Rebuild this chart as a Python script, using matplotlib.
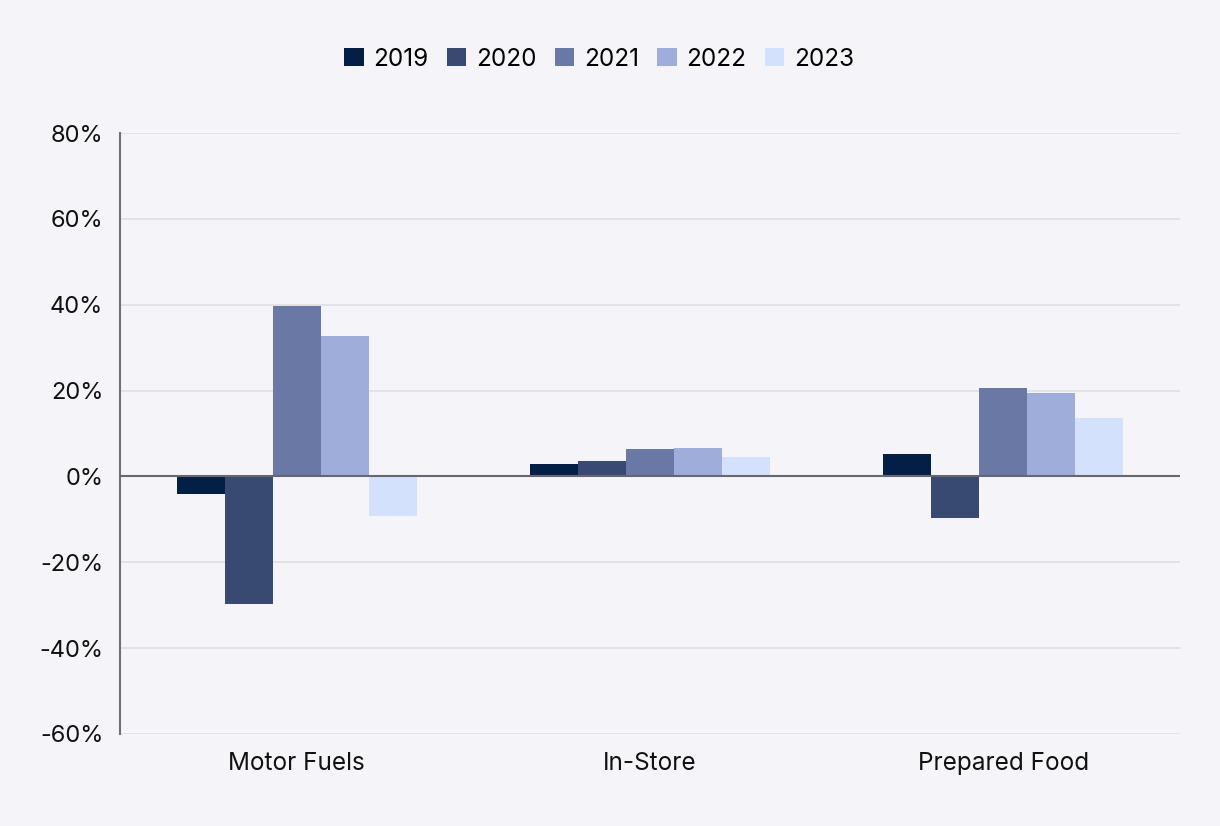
import matplotlib.pyplot as plt
import numpy as np
from matplotlib.ticker import PercentFormatter

categories = ["Motor Fuels", "In-Store", "Prepared Food"]
years = ["2019", "2020", "2021", "2022", "2023"]
values = {
    "2019": [-4.2, 3.0, 5.3],
    "2020": [-29.8, 3.5, -9.8],
    "2021": [39.8, 6.3, 20.5],
    "2022": [32.8, 6.7, 19.5],
    "2023": [-9.3, 4.6, 13.5],
}
colors = ["#031f45", "#384a72", "#6a78a5", "#9faddb", "#d3e1fd"]

plt.rcParams['font.family'] = ['Inter', 'DejaVu Sans']
plt.rcParams['axes.unicode_minus'] = False

bg = "#f5f5f9"
fig = plt.figure(figsize=(12.2, 8.26), dpi=100, facecolor=bg)
ax = fig.add_axes([120 / 1220, 92 / 826, 1060 / 1220, 601 / 826], facecolor=bg)

x = np.arange(len(categories))
w = 0.136
for i, yr in enumerate(years):
    ax.bar(x + (i - 2) * w, values[yr], w, color=colors[i], label=yr, zorder=3)

ax.set_xlim(-0.5, 2.5)
ax.set_ylim(-60, 80)
ax.set_yticks(range(-60, 81, 20))
ax.yaxis.set_major_formatter(PercentFormatter(decimals=0))
ax.grid(axis='y', color="#dedde3", linewidth=1.2, zorder=0)
ax.axhline(0, color="#67676f", linewidth=1.5, zorder=4)
ax.set_xticks(x)
ax.set_xticklabels(categories)
ax.tick_params(axis='both', length=0, labelsize=17.5, colors="#111111")
ax.tick_params(axis='y', labelsize=17, pad=12)
ax.tick_params(axis='x', pad=13)
for s in ["top", "right", "bottom"]:
    ax.spines[s].set_visible(False)
ax.spines["left"].set_color("#6f6f77")
ax.spines["left"].set_linewidth(1.5)

fig.legend(loc="center", bbox_to_anchor=(599 / 1220, 1 - 59 / 826), ncol=5,
           frameon=False, fontsize=17.5, handlelength=0.8, handleheight=0.8,
           handletextpad=0.4, columnspacing=0.75)

fig.savefig("out.png", dpi=100, facecolor=bg)
